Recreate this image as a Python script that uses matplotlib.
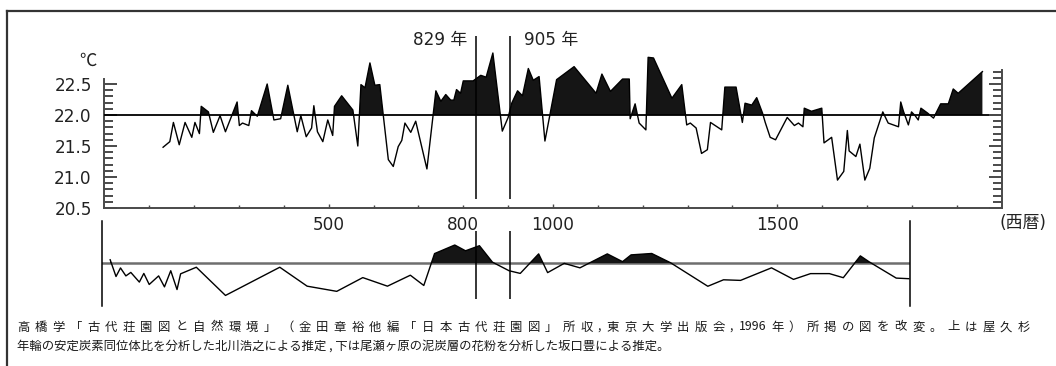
import re
import numpy as np
import matplotlib
matplotlib.use("Agg")
import matplotlib.pyplot as plt
import matplotlib.transforms as mtransforms
from matplotlib.lines import Line2D
from matplotlib.ticker import FixedLocator, NullFormatter

plt.rcParams['font.family'] = ['DejaVu Sans', 'Noto Sans CJK JP']
JP_FONT = ['Noto Sans CJK JP', 'DejaVu Sans']

# ---- data -------------------------------------------------------------
# Yakushima cedar tree-ring estimate (°C)
tree_years = [131, 146, 154, 167, 180, 195, 202, 212, 216, 232, 243, 258, 270, 296,
              301, 308, 322, 328, 341, 363, 378, 393, 409, 430, 438, 450, 462, 467,
              475, 487, 498, 509, 513, 529, 554, 565, 572, 581, 592, 603, 614, 633,
              644, 655, 663, 670, 683, 694, 719, 739, 750, 761, 772, 779, 785, 794,
              800, 822, 839, 851, 866, 887, 900, 908, 921, 932, 945, 956, 969, 982,
              1008, 1047, 1096, 1109, 1128, 1155, 1170, 1172, 1183, 1192, 1207, 1212,
              1224, 1265, 1287, 1298, 1306, 1319, 1331, 1344, 1351, 1376, 1383, 1408,
              1422, 1428, 1443, 1454, 1467, 1473, 1484, 1496, 1522, 1538, 1547, 1557,
              1560, 1576, 1599, 1604, 1621, 1634, 1648, 1656, 1660, 1675, 1684, 1695,
              1706, 1716, 1735, 1747, 1770, 1775, 1781, 1792, 1799, 1807, 1814, 1820,
              1835, 1848, 1864, 1881, 1892, 1903, 1957]
tree_temp = [21.48, 21.57, 21.88, 21.52, 21.88, 21.64, 21.88, 21.70, 22.14, 22.05, 21.72,
             21.99, 21.73, 22.21, 21.83, 21.87, 21.83, 22.07, 21.98, 22.50, 21.92, 21.94,
             22.48, 21.73, 21.99, 21.65, 21.79, 22.15, 21.73, 21.57, 21.92, 21.67, 22.14,
             22.31, 22.08, 21.50, 22.49, 22.44, 22.84, 22.48, 22.49, 21.28, 21.17, 21.49,
             21.59, 21.87, 21.72, 21.90, 21.13, 22.39, 22.22, 22.33, 22.24, 22.24, 22.41,
             22.35, 22.55, 22.55, 22.64, 22.61, 23.00, 21.74, 21.96, 22.19, 22.39, 22.31,
             22.75, 22.56, 22.62, 21.58, 22.57, 22.78, 22.35, 22.66, 22.38, 22.58, 22.58,
             21.94, 22.18, 21.87, 21.76, 22.93, 22.92, 22.27, 22.49, 21.84, 21.87, 21.79,
             21.38, 21.44, 21.88, 21.76, 22.45, 22.45, 21.88, 22.19, 22.16, 22.28, 22.03,
             21.88, 21.64, 21.60, 21.96, 21.83, 21.87, 21.81, 22.11, 22.06, 22.11, 21.55,
             21.64, 20.95, 21.09, 21.75, 21.42, 21.33, 21.53, 20.95, 21.14, 21.63, 22.05,
             21.87, 21.81, 22.21, 22.06, 21.84, 22.05, 21.99, 21.92, 22.11, 22.03, 21.95,
             22.18, 22.18, 22.42, 22.35, 22.70]
tree_base = 22.0

# Ozegahara peat pollen estimate (relative index)
pollen_years = [13, 26, 36, 48, 59, 78, 88, 100, 121, 134, 148, 162, 170, 205, 270,
                391, 452, 518, 576, 631, 682, 712, 736, 781, 805, 836, 865, 902, 927,
                968, 988, 1025, 1060, 1121, 1155, 1174, 1220, 1262, 1345, 1380, 1418,
                1487, 1536, 1574, 1616, 1647, 1685, 1704, 1765, 1793]
pollen_index = [3.4, -13.4, -4.8, -12.8, -9.3, -19.0, -10.3, -21.4, -12.8, -23.8, -7.6,
                -26.5, -10.7, -4.1, -32.4, -4.1, -23.1, -28.3, -14.5, -23.1, -12.1, -22.4,
                9.6, 18.2, 12.4, 17.5, 1.0, -7.6, -10.3, 9.3, -9.5, -0.2, -4.7, 9.3, 1.5,
                8.3, 9.7, 0.4, -23.2, -16.7, -17.3, -4.7, -16.3, -10.5, -10.5, -14.6, 7.3,
                1.5, -15.0, -15.6]
pollen_base = 0.0

event_years = [829, 905]
event_labels = ["829 年", "905 年"]

x_labels = [500, 800, 1000, 1500]
temp_labels = [20.5, 21.0, 21.5, 22.0, 22.5]
left_minor = [round(20.5 + 0.1 * i, 1) for i in range(21)]    # 20.5 .. 22.5
right_minor = [round(20.5 + 0.1 * i, 1) for i in range(23)]   # 20.5 .. 22.7

caption = ["高橋学「古代荘園図と自然環境」（金田章裕他編「日本古代荘園図」所収 , 東京大学出版会 ,1996 年）所掲の図を改変。上は屋久杉",
           "年輪の安定炭素同位体比を分析した北川浩之による推定 , 下は尾瀬ヶ原の泥炭層の花粉を分析した坂口豊による推定。"]

# ---- layout helpers ---------------------------------------------------
W, H = 1056, 366
fig = plt.figure(figsize=(W / 100, H / 100), dpi=100)


def box(left, right, top, bottom):
    return [left / W, 1 - bottom / H, (right - left) / W, (bottom - top) / H]


TICK_COLOR = "#4a4a4a"
LABEL_SIZE = 12.2
CAPTION_SIZE = 8.9

# ---- upper panel: tree-ring temperature -------------------------------
ax = fig.add_axes(box(104.3, 1001.7, 34.4, 208))
ax.set_xlim(0, 2000)
ax.set_ylim(20.5, 23.3)

t = np.array(tree_years, float)
v = np.array(tree_temp, float)
ax.fill_between(t, v, tree_base, where=v >= tree_base, interpolate=True,
                color="#151515", lw=0, zorder=2)
ax.plot(t, v, color="black", lw=1.0, zorder=3)
ax.axhline(tree_base, color="black", lw=1.3, zorder=4)
ax.vlines(event_years, 20.65, 23.28, color="black", lw=1.1, zorder=5)

for s in ("top", "right"):
    ax.spines[s].set_visible(False)
ax.spines["left"].set_bounds(20.5, 22.58)
for s in ("left", "bottom"):
    ax.spines[s].set_color(TICK_COLOR)
    ax.spines[s].set_linewidth(1.4)

ax.yaxis.set_major_locator(FixedLocator(temp_labels))
ax.yaxis.set_minor_locator(FixedLocator(left_minor))
ax.set_yticklabels([f"{x:.1f}" for x in temp_labels])
ax.tick_params(axis="y", which="major", direction="in", length=9.5, width=1.4,
               color=TICK_COLOR, pad=9, labelsize=LABEL_SIZE, labelcolor="#222222")
ax.tick_params(axis="y", which="minor", direction="in", length=6.5, width=1.4,
               color=TICK_COLOR)

ax.xaxis.set_major_locator(FixedLocator(x_labels))
ax.xaxis.set_minor_locator(FixedLocator(list(range(100, 2000, 100))))
ax.set_xticklabels([str(x) for x in x_labels])
ax.tick_params(axis="x", which="major", direction="in", length=3.2, width=1.0,
               color=TICK_COLOR, pad=6, labelsize=LABEL_SIZE, labelcolor="#222222")
ax.tick_params(axis="x", which="minor", direction="in", length=2.0, width=1.0,
               color=TICK_COLOR)
ax.xaxis.get_major_ticks()[1].tick1line.set_markersize(2.0)

# right-hand scale
axr = ax.twinx()
axr.set_ylim(ax.get_ylim())
for s in ("top", "left", "bottom"):
    axr.spines[s].set_visible(False)
axr.spines["right"].set_bounds(20.5, 22.73)
axr.spines["right"].set_color(TICK_COLOR)
axr.spines["right"].set_linewidth(1.4)
axr.yaxis.set_major_locator(FixedLocator(temp_labels))
axr.yaxis.set_minor_locator(FixedLocator(right_minor))
axr.yaxis.set_major_formatter(NullFormatter())
axr.tick_params(axis="y", which="major", direction="in", length=9.5, width=1.4,
                color=TICK_COLOR)
axr.tick_params(axis="y", which="minor", direction="in", length=6.5, width=1.4,
                color=TICK_COLOR)

# labels on the upper panel
fig.text(88 / W, 1 - 61 / H, "℃", ha="center", va="center", fontsize=12.5,
         family=JP_FONT, color="#222222")
fig.text(1023 / W, 1 - 223 / H, "(西暦)", ha="center", va="center",
         fontsize=LABEL_SIZE, color="#222222")
blend = mtransforms.blended_transform_factory(ax.transData, fig.transFigure)
for yr, lab, dx, ha in zip(event_years, event_labels, (-9, 14), ("right", "left")):
    tr = mtransforms.offset_copy(blend, fig=fig, x=dx, y=0, units="dots")
    ax.text(yr, 1 - 40 / H, lab, transform=tr, ha=ha, va="center",
            fontsize=LABEL_SIZE, color="#222222")

# ---- lower panel: pollen index ----------------------------------------
ax2 = fig.add_axes(box(102.1, 909.7, 221.3, 306))
ax2.set_xlim(-5, 1795)
ax2.set_ylim(-43, 42)
p = np.array(pollen_years, float)
q = np.array(pollen_index, float)
ax2.fill_between(p, q, pollen_base, where=q >= pollen_base, interpolate=True,
                 color="#151515", lw=0, zorder=2)
ax2.plot(p, q, color="black", lw=1.0, zorder=3)
ax2.axhline(pollen_base, color="#6e6e6e", lw=1.8, zorder=1)
ax2.vlines(event_years, -35.8, 32.7, color="black", lw=1.1, zorder=5)
for s in ("top", "bottom"):
    ax2.spines[s].set_visible(False)
for s in ("left", "right"):
    ax2.spines[s].set_linewidth(1.1)
ax2.set_xticks([])
ax2.set_yticks([])
ax2.patch.set_alpha(0)

# ---- caption: first line justified across the frame, last line ragged --
CAP_LEFT, CAP_RIGHT = 17, 1030
renderer = fig.canvas.get_renderer()
units = re.findall(r"[0-9]+|\S", caption[0])
pieces = [fig.text(0, 1 - 327 / H, u, ha="left", va="center", fontsize=CAPTION_SIZE,
                   family=JP_FONT, color="#1a1a1a")
          for u in units]
widths = [pc.get_window_extent(renderer).width for pc in pieces]
gap = (CAP_RIGHT - CAP_LEFT - sum(widths)) / (len(pieces) - 1)
xpos = CAP_LEFT
for pc, w in zip(pieces, widths):
    pc.set_x(xpos / W)
    xpos += w + gap
fig.text(CAP_LEFT / W, 1 - 346 / H, caption[1], ha="left", va="center",
         fontsize=CAPTION_SIZE, family=JP_FONT, color="#1a1a1a")

# frame
fig.add_artist(Line2D([7 / W, 1], [1 - 11 / H, 1 - 11 / H], color="#333333", lw=1.6,
                      transform=fig.transFigure))
fig.add_artist(Line2D([7 / W, 7 / W], [0, 1 - 11 / H], color="#333333", lw=1.6,
                      transform=fig.transFigure))

fig.savefig("out.png", dpi=100)
